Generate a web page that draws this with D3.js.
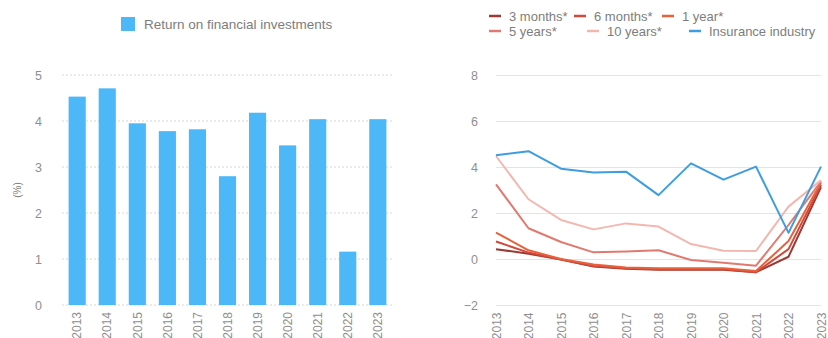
<!DOCTYPE html>
<html>
<head>
<meta charset="utf-8">
<script src="https://cdn.jsdelivr.net/npm/d3@7"></script>
<style>
  html, body { margin: 0; padding: 0; background: #fff; }
  svg text { font-family: "Liberation Sans", "DejaVu Sans", sans-serif; fill: #7d7d7d; }
</style>
</head>
<body>
<svg id="chart" width="828" height="338"></svg>
<script>
// Years on the x axis of both panels
const years = ["2013","2014","2015","2016","2017","2018","2019","2020","2021","2022","2023"];

// Return on financial investments (%) — insurance industry
const investmentReturn = [4.53, 4.71, 3.95, 3.78, 3.82, 2.80, 4.18, 3.47, 4.04, 1.16, 4.04];

// Government bond yields (%) by maturity
const yield3m  = [0.45, 0.25, 0.00, -0.30, -0.40, -0.45, -0.45, -0.45, -0.55, 0.12, 3.15];
const yield6m  = [0.78, 0.30, 0.00, -0.28, -0.38, -0.42, -0.42, -0.42, -0.55, 0.45, 3.25];
const yield1y  = [1.17, 0.40, 0.02, -0.22, -0.35, -0.38, -0.38, -0.38, -0.50, 0.80, 3.35];
const yield5y  = [3.27, 1.36, 0.76, 0.31, 0.35, 0.40, -0.02, -0.14, -0.27, 1.50, 3.40];
const yield10y = [4.50, 2.62, 1.72, 1.31, 1.57, 1.43, 0.67, 0.38, 0.37, 2.30, 3.45];

// Axis ticks
const leftTicks = [0, 1, 2, 3, 4, 5];
const rightTicks = [-2, 0, 2, 4, 6, 8];

const seriesNames = ["3 months*", "6 months*", "1 year*", "5 years*", "10 years*", "Insurance industry"];
const seriesValues = [yield3m, yield6m, yield1y, yield5y, yield10y, investmentReturn];
const seriesColors = ["#9b3a34", "#d2483a", "#e8613a", "#e07a70", "#f2b8b0", "#3d9de0"];

const svg = d3.select("#chart");
const tickFont = 12;

// ---------- Left panel: bar chart ----------
const L = { left: 62, right: 393, top: 75, bottom: 305 };
const xBand = d3.scaleBand().domain(years).range([L.left, L.right]).paddingInner(0.43).paddingOuter(0.22);
const yLeft = d3.scaleLinear().domain([0, 5]).range([L.bottom, L.top]);

const gl = svg.append("g");
gl.selectAll("line.grid").data(leftTicks).join("line")
  .attr("x1", L.left).attr("x2", L.right)
  .attr("y1", d => yLeft(d)).attr("y2", d => yLeft(d))
  .attr("stroke", "#d6d6d6").attr("stroke-width", 1)
  .attr("stroke-dasharray", "2,2");

gl.selectAll("rect.bar").data(investmentReturn).join("rect")
  .attr("x", (d, i) => xBand(years[i]))
  .attr("width", xBand.bandwidth())
  .attr("y", d => yLeft(d))
  .attr("height", d => yLeft(0) - yLeft(d))
  .attr("fill", "#4cb8f7");

const yAxisL = d3.axisLeft(yLeft).tickValues(leftTicks).tickSize(0).tickPadding(0).tickFormat(d3.format("d"));
gl.append("g").attr("transform", `translate(${L.left - 20},0)`).call(yAxisL)
  .call(g => g.select(".domain").remove())
  .selectAll("text").attr("font-size", 12.5).style("fill", "#8f8f8f");

const xAxisL = d3.axisBottom(xBand).tickSize(0).tickPadding(0);
gl.append("g").attr("transform", `translate(0,${L.bottom + 7})`).call(xAxisL)
  .call(g => g.select(".domain").remove())
  .selectAll("text")
  .attr("font-size", tickFont).style("fill", "#8f8f8f")
  .attr("text-anchor", "end").attr("dy", "0.35em").attr("dx", 0).attr("y", 0).attr("x", 0)
  .attr("transform", "rotate(-90)");

gl.append("text").attr("transform", `translate(17,190) rotate(-90)`)
  .attr("text-anchor", "middle").attr("dy", "0.35em")
  .attr("font-size", 10).text("(%)");

// Legend for the bar panel
gl.append("rect").attr("x", 121).attr("y", 17).attr("width", 14).attr("height", 14).attr("fill", "#4cb8f7");
gl.append("text").attr("x", 144).attr("y", 24).attr("dy", "0.35em")
  .attr("font-size", 13.5).text("Return on financial investments");

// ---------- Right panel: line chart ----------
const R = { left: 496, right: 821, top: 75.5, bottom: 305.5 };
const xPoint = d3.scalePoint().domain(years).range([R.left, R.right]);
const yRight = d3.scaleLinear().domain([-2, 8]).range([R.bottom, R.top]);

const gr = svg.append("g");
gr.selectAll("line.grid").data(rightTicks).join("line")
  .attr("x1", R.left).attr("x2", R.right)
  .attr("y1", d => yRight(d)).attr("y2", d => yRight(d))
  .attr("stroke", "#e4e4e4").attr("stroke-width", 1);

const line = d3.line().x((d, i) => xPoint(years[i])).y(d => yRight(d));
gr.selectAll("path.series").data(seriesValues).join("path")
  .attr("d", d => line(d))
  .attr("fill", "none")
  .attr("stroke", (d, i) => seriesColors[i])
  .attr("stroke-width", 2)
  .attr("stroke-linejoin", "round");

const yAxisR = d3.axisLeft(yRight).tickValues(rightTicks).tickSize(0).tickPadding(0).tickFormat(d3.format("d"));
gr.append("g").attr("transform", `translate(${R.left - 18},0)`).call(yAxisR)
  .call(g => g.select(".domain").remove())
  .selectAll("text").attr("font-size", 12.5).style("fill", "#8f8f8f");

const xAxisR = d3.axisBottom(xPoint).tickSize(0).tickPadding(0);
gr.append("g").attr("transform", `translate(0,${R.bottom + 7})`).call(xAxisR)
  .call(g => g.select(".domain").remove())
  .selectAll("text")
  .attr("font-size", tickFont).style("fill", "#8f8f8f")
  .attr("text-anchor", "end").attr("dy", "0.35em").attr("dx", 0).attr("y", 0).attr("x", 0)
  .attr("transform", "rotate(-90)");

// Legend for the line panel: two rows of three
const legendX = [489, 574, 662];
const legendX2 = [489, 587, 689];
const legendItems = seriesNames.map((name, i) => ({
  name, color: seriesColors[i],
  x: i < 3 ? legendX[i] : legendX2[i - 3],
  y: i < 3 ? 16 : 31
}));
const lg = gr.selectAll("g.legend").data(legendItems).join("g")
  .attr("transform", d => `translate(${d.x},${d.y})`);
lg.append("line").attr("x1", 0).attr("x2", 12).attr("y1", 0).attr("y2", 0)
  .attr("stroke", d => d.color).attr("stroke-width", 2.5);
lg.append("text").attr("x", 20).attr("dy", "0.35em").attr("font-size", 13).text(d => d.name);
</script>
</body>
</html>
